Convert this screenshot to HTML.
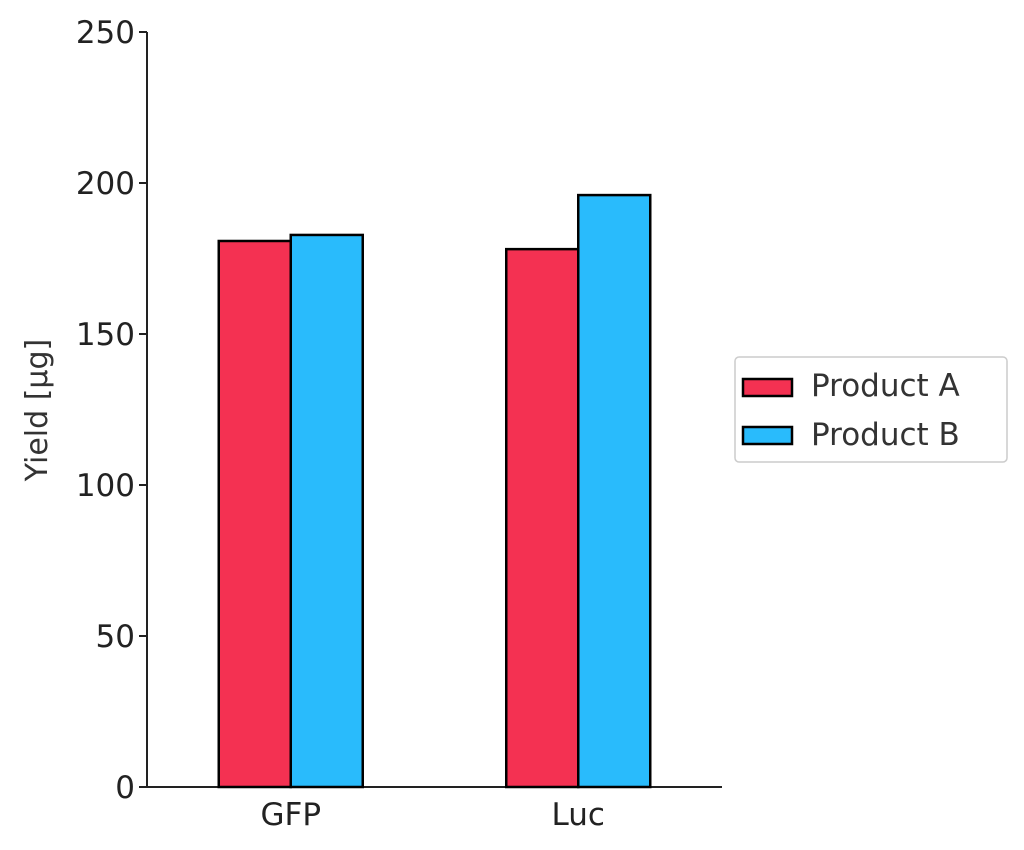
<!DOCTYPE html>
<html><head><meta charset="utf-8"><style>
html,body{margin:0;padding:0;background:#fff;}
svg{display:block;font-family:"DejaVu Sans","Liberation Sans",sans-serif;}
</style></head><body>
<svg id="chart" width="1024" height="850" viewBox="0 0 1024 850" xmlns="http://www.w3.org/2000/svg">
<g id="axes"></g>
<g id="bars"></g>
<text transform="translate(47,410) rotate(-90)" text-anchor="middle" font-size="30" fill="#333">Yield [µg]</text>
<g>
<rect x="735" y="357" width="272" height="105" rx="4" fill="#fff" stroke="#ccc" stroke-width="1.5"/>
<g>
<rect x="743" y="379" width="49" height="17" fill="#f43152" stroke="#000" stroke-width="2.5"/>
<text x="811" y="396" font-size="31" fill="#333">Product A</text>
</g>
<g>
<rect x="743" y="427" width="49" height="17" fill="#29bbfc" stroke="#000" stroke-width="2.5"/>
<text x="811" y="445" font-size="31" fill="#333">Product B</text>
</g>
</g>
</svg>
<script>
const categories = ["GFP", "Luc"];
const productA = [180.8, 178.1];
const productB = [182.8, 196.0];
const yTicks = [0, 50, 100, 150, 200, 250];
const NS = "http://www.w3.org/2000/svg";
const x0 = 147, x1 = 722, yBase = 787, yTop = 32, yMax = 250;
function yScale(v){ return yBase - (v / yMax) * (yBase - yTop); }
function xScale(i){ return x0 + (i + 0.5) * (x1 - x0) / categories.length; }
const bw = 0.25 * (x1 - x0) / 2 * 2;
function mk(tag, attrs, parent){ const e = document.createElementNS(NS, tag); for (const k in attrs) e.setAttribute(k, attrs[k]); parent.appendChild(e); return e; }
const axes = document.getElementById("axes"), bars = document.getElementById("bars");
const series = [{vals: productA, color: "#f43152", name: "a", off: -1}, {vals: productB, color: "#29bbfc", name: "b", off: 0}];
categories.forEach((c, i) => {
  series.forEach(s => {
    const v = s.vals[i];
    const r = mk("rect", {x: xScale(i) + s.off * 72, y: yScale(v), width: 72, height: yBase - yScale(v), fill: s.color, stroke: "#000", "stroke-width": 2.5}, bars);
    
    
  });
  const t = mk("text", {x: xScale(i), y: 825, "text-anchor": "middle", "font-size": 31, fill: "#222"}, axes);
  t.textContent = c;
  
  
});
yTicks.forEach(v => {
  const y = yScale(v);
  const l = mk("line", {x1: x0 - 8, x2: x0, y1: y, y2: y, stroke: "#222", "stroke-width": 2}, axes);
  
  
  const t = mk("text", {x: x0 - 12, y: y + 11, "text-anchor": "end", "font-size": 31, fill: "#222"}, axes);
  t.textContent = v;
  
  
});
const ya = mk("line", {x1: x0, x2: x0, y1: yTop, y2: yBase, stroke: "#222", "stroke-width": 2}, axes);


const xa = mk("line", {x1: x0, x2: x1, y1: yBase, y2: yBase, stroke: "#222", "stroke-width": 2}, axes);


</script>
</body></html>
